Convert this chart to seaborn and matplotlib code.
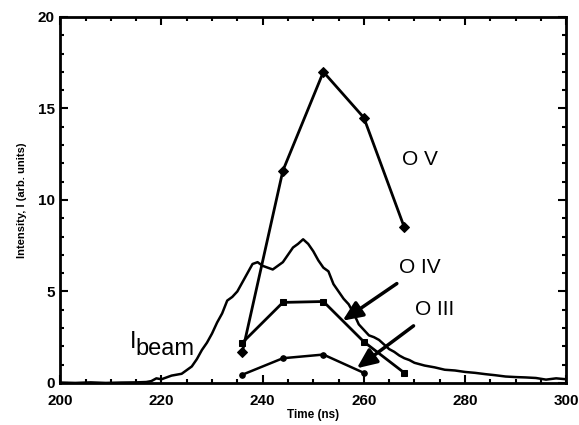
import numpy as np
import pandas as pd
import matplotlib
matplotlib.use("Agg")
import matplotlib.pyplot as plt
import seaborn as sns
from matplotlib.ticker import MultipleLocator


# ==========================================
# DATA
# ==========================================

ion_time = [236, 244, 252, 260, 268]
o5_int = [1.7, 11.6, 17.0, 14.5, 8.5]
o4_int = [2.2, 4.4, 4.45, 2.25, 0.55]

o3_time = [236, 244, 252, 260]
o3_int = [0.45, 1.35, 1.55, 0.55]

beam_time = [200, 203, 206, 209, 212, 215, 217, 218, 219, 220, 221, 222, 223,
             224, 225, 226, 227, 228, 229, 230, 231, 232, 233, 234, 235, 236,
             237, 238, 239, 240, 241, 242, 243, 244, 245, 246, 247, 248, 249,
             250, 251, 252, 253, 254, 255, 256, 257, 258, 259, 260, 261, 262,
             263, 264, 265, 266, 267, 268, 269, 270, 272, 274, 276, 278, 280,
             282, 284, 286, 288, 290, 292, 294, 296, 298, 300]
beam_int = [0.02, 0.0, 0.03, 0.0, 0.02, 0.03, 0.05, 0.1, 0.25, 0.2, 0.3, 0.4,
            0.45, 0.5, 0.7, 0.9, 1.3, 1.8, 2.2, 2.7, 3.3, 3.8, 4.5, 4.7, 5.0,
            5.5, 6.0, 6.5, 6.6, 6.4, 6.3, 6.2, 6.4, 6.6, 7.0, 7.4, 7.6, 7.85,
            7.6, 7.2, 6.7, 6.3, 6.1, 5.4, 5.0, 4.6, 4.3, 3.8, 3.2, 2.9, 2.6,
            2.5, 2.35, 2.1, 1.85, 1.7, 1.5, 1.35, 1.25, 1.1, 0.95, 0.85, 0.72,
            0.68, 0.6, 0.55, 0.48, 0.42, 0.35, 0.32, 0.3, 0.27, 0.18, 0.25, 0.2]


# ==========================================
# STYLE
# ==========================================

sns.set_style("ticks", {"axes.edgecolor": "black", "text.color": "black",
                        "axes.labelcolor": "black", "xtick.color": "black",
                        "ytick.color": "black"})
plt.rcParams["font.family"] = ["Liberation Sans", "DejaVu Sans"]

fig = plt.figure(figsize=(5.79, 4.25), dpi=100)
ax = fig.add_axes([0.104, 0.099, 0.874, 0.861])


# ==========================================
# LINES
# ==========================================

sns.lineplot(x=beam_time, y=beam_int, ax=ax, color="black", lw=1.8)

sns.lineplot(x=ion_time, y=o5_int, ax=ax, color="black", lw=2,
             marker="D", markersize=5, markeredgecolor="black")

sns.lineplot(x=ion_time, y=o4_int, ax=ax, color="black", lw=2,
             marker="s", markersize=5, markeredgecolor="black")

sns.lineplot(x=o3_time, y=o3_int, ax=ax, color="black", lw=1.8,
             marker="o", markersize=4, markeredgecolor="black")


# ==========================================
# LABELS AND ARROWS
# ==========================================

ax.text(267.5, 12.2, "O V", fontsize=15, va="center", ha="left",
        color="black")

ax.annotate("O IV", xy=(255.8, 3.4), xytext=(267.0, 6.3),
            fontsize=15, va="center", ha="left", color="black",
            arrowprops=dict(arrowstyle="-|>,head_length=0.8,head_width=0.35",
                            color="black", lw=2.5, shrinkA=4, shrinkB=0))

ax.annotate("O III", xy=(258.6, 0.8), xytext=(270.2, 4.0),
            fontsize=15, va="center", ha="left", color="black",
            arrowprops=dict(arrowstyle="-|>,head_length=0.8,head_width=0.35",
                            color="black", lw=2.5, shrinkA=4, shrinkB=0))

ax.text(213.8, 1.9, "I", fontsize=17, va="baseline", ha="left",
        color="black")
ax.text(214.9, 1.5, "beam", fontsize=17, va="baseline", ha="left",
        color="black")


# ==========================================
# AXES
# ==========================================

ax.set_xlim(200, 300)
ax.set_ylim(0, 20)

ax.xaxis.set_major_locator(MultipleLocator(20))
ax.xaxis.set_minor_locator(MultipleLocator(5))
ax.yaxis.set_major_locator(MultipleLocator(5))
ax.yaxis.set_minor_locator(MultipleLocator(1))

ax.tick_params(which="both", direction="in", top=True, right=True, width=1.5,
               colors="black")
ax.tick_params(which="major", length=6, labelsize=11)
ax.tick_params(axis="x", which="major", pad=8)
ax.tick_params(axis="y", which="major", pad=4)
ax.tick_params(which="minor", length=3)

for lab in ax.get_xticklabels() + ax.get_yticklabels():
    lab.set_fontweight("bold")

for sp in ax.spines.values():
    sp.set_linewidth(2)
    sp.set_visible(True)
    sp.set_color("black")

ax.set_xlabel("Time (ns)", fontsize=8.5, fontweight="bold", labelpad=1,
              color="black")
ax.set_ylabel("Intensity, I (arb. units)", fontsize=8, fontweight="bold",
              labelpad=8, color="black")

fig.savefig("out.png", dpi=100)
